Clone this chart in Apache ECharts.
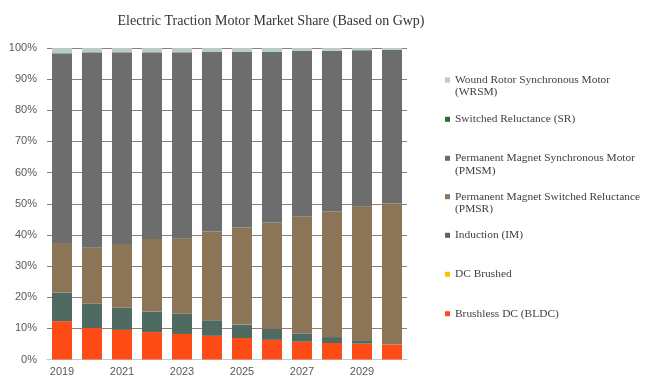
<!DOCTYPE html>
<html>
<head>
<meta charset="utf-8">
<script src="https://cdn.jsdelivr.net/npm/echarts@6/dist/echarts.min.js"></script>
<style>html,body{margin:0;padding:0;background:#fff}#c{width:646px;height:385px}</style>
</head>
<body>
<div id="c"></div>
<script>
var years = ['2019','2020','2021','2022','2023','2024','2025','2026','2027','2028','2029','2030'];
var bldc = [12.3, 10.1, 9.5, 8.8, 8.2, 7.6, 6.9, 6.3, 5.7, 5.3, 5.1, 4.8];
var dcBrushed = [0, 0, 0, 0, 0, 0, 0, 0, 0, 0, 0, 0];
var induction = [9.2, 7.8, 7.1, 6.6, 6.5, 5.0, 4.3, 3.5, 2.7, 1.9, 1.1, 0];
var pmsr = [15.9, 18.0, 20.5, 23.3, 24.1, 28.5, 31.2, 34.2, 37.6, 40.3, 42.8, 45.3];
var pmsm = [60.9, 62.7, 61.5, 59.9, 59.8, 57.6, 56.4, 54.8, 53.1, 51.6, 50.3, 49.3];
var switchedRel = [0, 0, 0, 0, 0, 0, 0, 0, 0, 0, 0, 0];
var wrsm = [1.7, 1.4, 1.4, 1.4, 1.4, 1.3, 1.2, 1.2, 0.9, 0.9, 0.7, 0.6];
var yTicks = [0, 10, 20, 30, 40, 50, 60, 70, 80, 90, 100];

var seriesDefs = [
  {name: 'Brushless DC (BLDC)', data: bldc, color: '#FF4C17', l1: 'Brushless DC (BLDC)', l2: ''},
  {name: 'DC Brushed', data: dcBrushed, color: '#FFC000', l1: 'DC Brushed', l2: ''},
  {name: 'Induction (IM)', data: induction, color: '#4F6A60', l1: 'Induction (IM)', l2: ''},
  {name: 'Permanent Magnet Switched Reluctance (PMSR)', data: pmsr, color: '#8C7456', l1: 'Permanent Magnet Switched Reluctance', l2: '(PMSR)'},
  {name: 'Permanent Magnet Synchronous Motor (PMSM)', data: pmsm, color: '#6D6D6D', l1: 'Permanent Magnet Synchronous Motor', l2: '(PMSM)'},
  {name: 'Switched Reluctance (SR)', data: switchedRel, color: '#2F6B2F', l1: 'Switched Reluctance (SR)', l2: ''},
  {name: 'Wound Rotor Synchronous Motor (WRSM)', data: wrsm, color: '#B9CDC0', l1: 'Wound Rotor Synchronous Motor', l2: '(WRSM)'}
];

var legendCenters = [313.7, 274.3, 235.3, 196.7, 158.3, 119.3, 80];
var lh = 12.5;
var legends = seriesDefs.map(function (s, i) {
  return {
    show: true,
    data: [s.name],
    left: 445,
    top: legendCenters[i] - lh * 1.5,
    padding: 0,
    itemWidth: 5,
    itemHeight: 5,
    icon: 'rect',
    selectedMode: false,
    formatter: function () { return '\n' + s.l1 + '\n' + (s.l2 || ' '); },
    textStyle: {fontFamily: 'Liberation Serif', fontSize: 11.4, color: '#404040', lineHeight: lh}
  };
});

var chart = echarts.init(document.getElementById('c'), null, {renderer: 'canvas'});
chart.setOption({
  animation: false,
  title: {
    text: 'Electric Traction Motor Market Share (Based on Gwp)',
    left: 266, top: 9, textAlign: 'center',
    textStyle: {fontFamily: 'Liberation Serif', fontSize: 14, fontWeight: 'normal', color: '#333333'}
  },
  legend: legends,
  grid: {left: 47, right: 239, top: 48, bottom: 25.5, containLabel: false},
  xAxis: {
    type: 'category', data: years,
    axisLine: {show: true, lineStyle: {color: '#BFCAD4', width: 1}},
    axisTick: {show: false},
    axisLabel: {interval: 1, color: '#595959', fontFamily: 'Liberation Sans', fontSize: 11, margin: 7}
  },
  yAxis: {
    type: 'value', min: 0, max: 100, interval: 10,
    axisLine: {show: false}, axisTick: {show: false},
    splitLine: {lineStyle: {color: '#8E8072', width: 1}},
    axisLabel: {color: '#595959', fontFamily: 'Liberation Sans', fontSize: 11, margin: 10,
      formatter: function (v) { return yTicks.indexOf(v) >= 0 ? v + '%' : ''; }}
  },
  series: seriesDefs.map(function (s) {
    return {
      name: s.name, type: 'bar', stack: 'total', data: s.data,
      barWidth: 20, itemStyle: {color: s.color}
    };
  })
});
</script>
</body>
</html>
